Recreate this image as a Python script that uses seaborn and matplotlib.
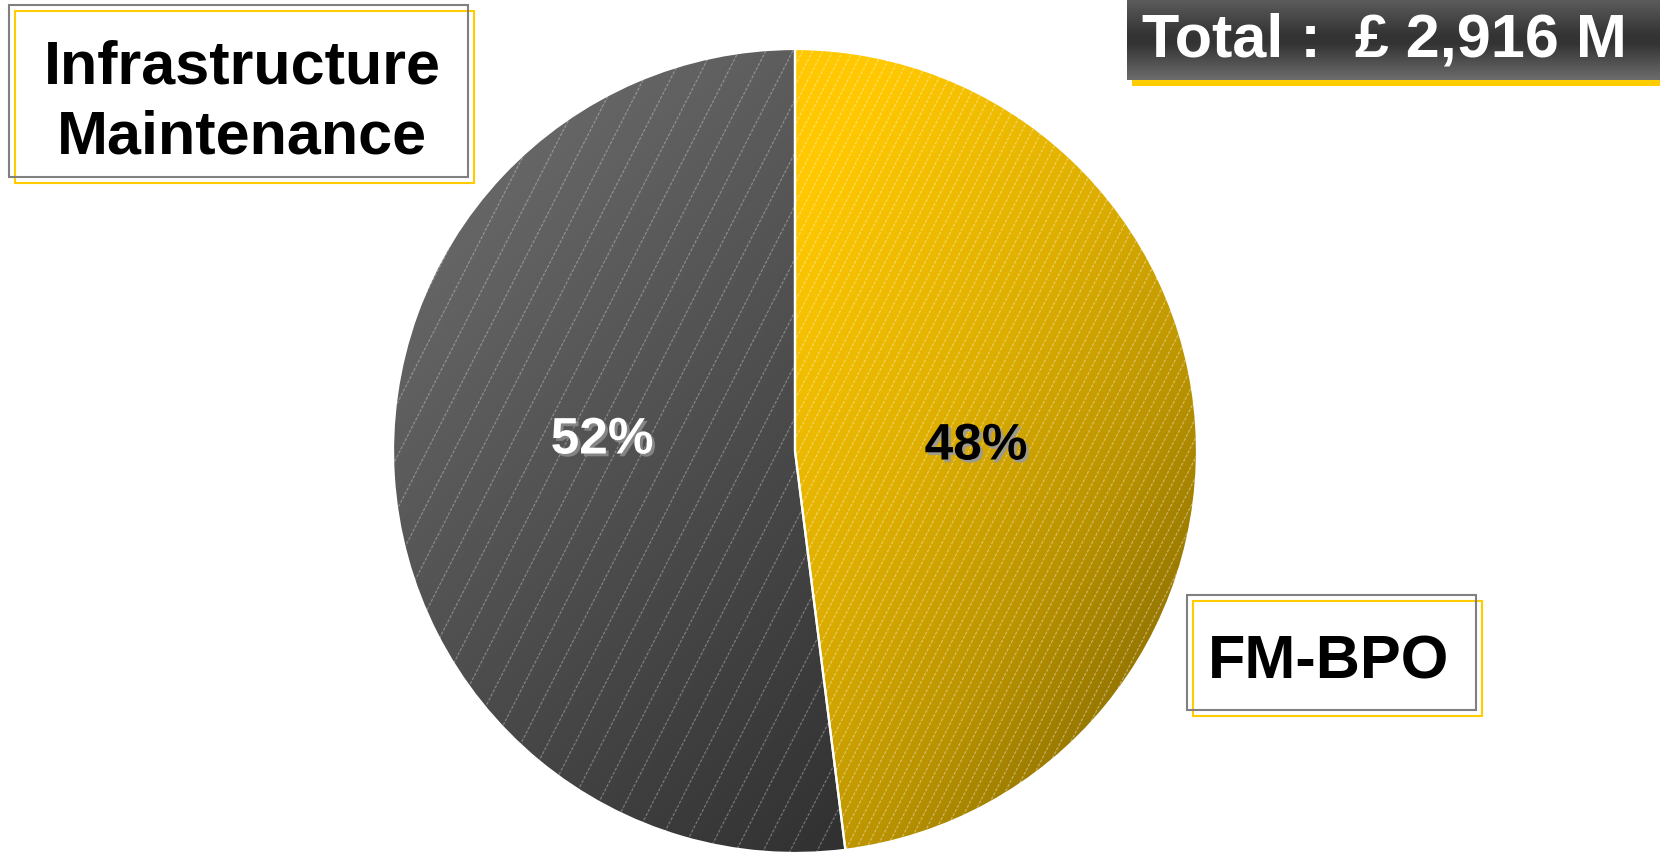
import numpy as np
import matplotlib
matplotlib.use("Agg")
import matplotlib.pyplot as plt
import matplotlib.patheffects as pe
from matplotlib.patches import Rectangle
from matplotlib.collections import LineCollection
from matplotlib.colors import LinearSegmentedColormap
import seaborn as sns

# ---- data ----
segments = ["FM-BPO", "Infrastructure Maintenance"]
shares = [48, 52]
pct_labels = ["48%", "52%"]
total_text = "Total :  £ 2,916 M"
box_titles = ["Infrastructure\nMaintenance", "FM-BPO"]

sns.set_theme(style="white")
plt.rcParams["font.family"] = ["Liberation Sans", "DejaVu Sans"]

W, H = 1660, 853
fig = plt.figure(figsize=(W / 100, H / 100), dpi=100)
ax = fig.add_axes([0, 0, 1, 1])

cx, cy, r = 795, 452, 402

# y grows downward in this axes, so counterclock=True turns clockwise on screen
wedges, _ = ax.pie(
    shares, startangle=270, counterclock=True, center=(cx, cy), radius=r,
    wedgeprops=dict(facecolor="none", edgecolor="white", linewidth=1.6),
)
ax.set_xlim(0, W)
ax.set_ylim(H, 0)
ax.set_aspect("equal")
ax.axis("off")

# diagonal gradient fills, light at the top-left, dark toward the bottom-right
ramps = [
    LinearSegmentedColormap.from_list(
        "gold", [(0.0, "#FFCC00"), (0.38, "#FFC800"), (0.6, "#DDAE00"),
                 (0.75, "#BB9400"), (1.0, "#6A5400")]),
    LinearSegmentedColormap.from_list("slate", ["#727272", "#1E1E1E"]),
]
weights = [(0.6, 0.4), (0.5, 0.5)]
n = 400
gx, gy = np.meshgrid(np.linspace(0, 1, n), np.linspace(0, 1, n))
for w, cmap, (wx, wy) in zip(wedges, ramps, weights):
    t = wx * gx + wy * gy
    im = ax.imshow(cmap(t), extent=(cx - r, cx + r, cy + r, cy - r), origin="upper",
                   zorder=1, interpolation="bilinear")
    im.set_clip_path(w)
    w.set_zorder(3)

# fine diagonal hatching over each slice
ang = np.deg2rad(63)
y_top, y_bot = cy - r - 10, cy + r + 10
h = y_bot - y_top
for w, spacing, alpha in zip(wedges, [10, 27], [0.38, 0.3]):
    offs = np.arange(cx - r - h, cx + r + 10, spacing)
    segs = [[(c, y_bot), (c + h / np.tan(ang), y_top)] for c in offs]
    lc = LineCollection(segs, colors="white", linewidths=0.9, alpha=alpha,
                        linestyles=(0, (2.5, 1.2)), zorder=2)
    lc.set_clip_path(w)
    ax.add_collection(lc)

# percentage labels
ax.text(976, 447, pct_labels[0], color="black", fontsize=37, fontweight="bold",
        ha="center", va="center", zorder=5,
        path_effects=[pe.withSimplePatchShadow(offset=(2, -2), shadow_rgbFace="#9a9a9a", alpha=0.9)])
ax.text(602, 441, pct_labels[1], color="white", fontsize=37, fontweight="bold",
        ha="center", va="center", zorder=5,
        path_effects=[pe.withSimplePatchShadow(offset=(2, -2), shadow_rgbFace="#8a8a8a", alpha=0.9)])

# outlined title boxes
def title_box(x0, y0, x1, y1, dx, dy, text, tx, ty):
    ax.add_patch(Rectangle((x0 + dx, y0 + dy), x1 - x0, y1 - y0, facecolor="none",
                           edgecolor="#FFCC00", linewidth=1.5, zorder=6))
    ax.add_patch(Rectangle((x0, y0), x1 - x0, y1 - y0, facecolor="none",
                           edgecolor="#808080", linewidth=1.5, zorder=6))
    ax.text(tx, ty, text, color="black", fontsize=44, fontweight="bold",
            ha="center", va="center", linespacing=1.3, zorder=7)

title_box(9, 6, 468, 178, 6, 6, box_titles[0], 242, 103)
title_box(1187, 596, 1476, 711, 6, 6, box_titles[1], 1329, 663)

# total banner with vertical shading and yellow offset bar
ax.add_patch(Rectangle((1132, 6), 540, 81, facecolor="#FFCC00", edgecolor="none", zorder=6))
banner = LinearSegmentedColormap.from_list(
    "banner", [(0.0, "#5C5C5C"), (0.45, "#333333"), (0.55, "#333333"), (1.0, "#6C6C6C")])
v = np.linspace(0, 1, 100)[:, None] * np.ones((1, 2))
ax.imshow(banner(v), extent=(1127, W, 81, 0), origin="upper",
          zorder=7, interpolation="bilinear", aspect="auto")
ax.set_xlim(0, W)
ax.set_ylim(H, 0)
ax.text(1384, 41, total_text, color="white", fontsize=44, fontweight="bold",
        ha="center", va="center", zorder=8)

fig.savefig("out.png", dpi=100)
